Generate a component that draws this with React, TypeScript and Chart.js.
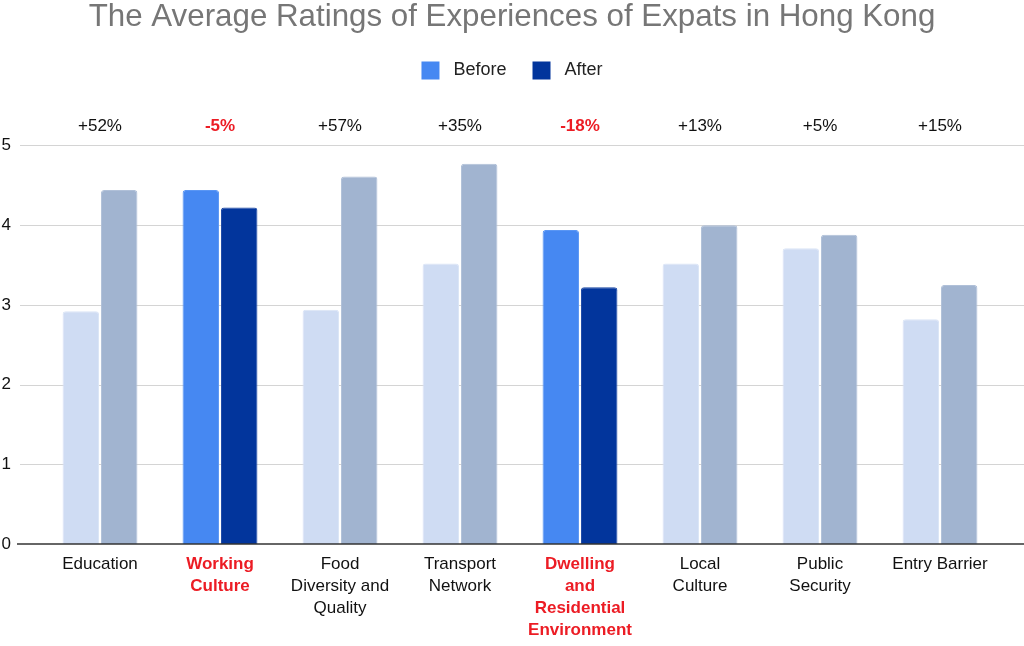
import { useEffect, useRef } from "react";
import { Chart, registerables } from "chart.js";
import type { Plugin } from "chart.js";

Chart.register(...registerables);

// chart data
const categories = [
  ["Education"],
  ["Working", "Culture"],
  ["Food", "Diversity and", "Quality"],
  ["Transport", "Network"],
  ["Dwelling", "and", "Residential", "Environment"],
  ["Local", "Culture"],
  ["Public", "Security"],
  ["Entry Barrier"],
];
const beforeValues = [2.92, 4.44, 2.94, 3.52, 3.94, 3.52, 3.71, 2.82];
const afterValues = [4.44, 4.22, 4.61, 4.77, 3.22, 4.0, 3.88, 3.25];
const changeLabels = ["+52%", "-5%", "+57%", "+35%", "-18%", "+13%", "+5%", "+15%"];
const highlighted = [false, true, false, false, true, false, false, false];
const yTicks = [0, 1, 2, 3, 4, 5];

const RED = "#ec1c24";
const FONT = "'Liberation Sans', Arial, Helvetica, sans-serif";

const beforeColors = highlighted.map((h) => (h ? "#4688f2" : "#cfdcf3"));
const beforeBorders = highlighted.map((h) => (h ? "#5a96f4" : "#dbe5f6"));
const afterColors = highlighted.map((h) => (h ? "#02359c" : "#a1b4d0"));
const afterBorders = highlighted.map((h) => (h ? "#1a47a4" : "#b0c0d8"));

// grid lines run wider than the category band, like the original
const gridPlugin: Plugin<"bar"> = {
  id: "fullGrid",
  beforeDatasetsDraw(chart) {
    const { ctx, width } = chart;
    const y = chart.scales.y;
    ctx.save();
    ctx.strokeStyle = "#d4d4d4";
    ctx.lineWidth = 1;
    yTicks.forEach((v) => {
      if (v === 0) return;
      const py = Math.round(y.getPixelForValue(v)) + 0.5;
      ctx.beginPath();
      ctx.moveTo(20, py);
      ctx.lineTo(width, py);
      ctx.stroke();
    });
    ctx.restore();
  },
  afterDatasetsDraw(chart) {
    const { ctx, width } = chart;
    const py = chart.scales.y.getPixelForValue(0);
    ctx.save();
    ctx.strokeStyle = "#333333";
    ctx.lineWidth = 1.5;
    ctx.beginPath();
    ctx.moveTo(17, py);
    ctx.lineTo(width, py);
    ctx.stroke();
    ctx.restore();
  },
};

const changePlugin: Plugin<"bar"> = {
  id: "changeLabels",
  afterDraw(chart) {
    const { ctx, chartArea } = chart;
    const x = chart.scales.x;
    ctx.save();
    ctx.textAlign = "center";
    ctx.textBaseline = "middle";
    changeLabels.forEach((label, i) => {
      const neg = label.startsWith("-");
      ctx.font = `${neg ? "bold " : ""}17px ${FONT}`;
      ctx.fillStyle = neg ? RED : "#111111";
      ctx.fillText(label, x.getPixelForValue(i), chartArea.top - 19);
    });
    ctx.restore();
  },
};

// push plot area down below the legend
const legendGap: Plugin<"bar"> = {
  id: "legendGap",
  beforeInit(chart) {
    const legend = chart.legend as any;
    if (!legend) return;
    const fit = legend.fit;
    legend.fit = function () {
      fit.bind(legend)();
      this.height += 56;
    };
  },
};

export default function App() {
  const canvasRef = useRef<HTMLCanvasElement | null>(null);

  useEffect(() => {
    document.body.style.margin = "0";
    if (!canvasRef.current) return;
    Chart.defaults.font.family = FONT;

    const chart = new Chart(canvasRef.current, {
      type: "bar",
      data: {
        labels: categories,
        datasets: [
          {
            label: "Before",
            data: beforeValues,
            backgroundColor: beforeColors,
            borderColor: beforeBorders,
            borderWidth: 1,
            borderSkipped: "bottom",
            borderRadius: 3,
            categoryPercentage: 0.64,
            barPercentage: 0.95,
          },
          {
            label: "After",
            data: afterValues,
            backgroundColor: afterColors,
            borderColor: afterBorders,
            borderWidth: 1,
            borderSkipped: "bottom",
            borderRadius: 3,
            categoryPercentage: 0.64,
            barPercentage: 0.95,
          },
        ],
      },
      options: {
        responsive: true,
        maintainAspectRatio: false,
        animation: false,
        layout: { padding: { left: 0, right: 0, top: 0, bottom: 5 } },
        plugins: {
          title: {
            display: true,
            text: "The Average Ratings of Experiences of Expats in Hong Kong",
            color: "#767676",
            font: { size: 31.3, weight: "normal", family: FONT, lineHeight: 1.1 },
            padding: { top: 0, bottom: 1 },
          },
          legend: {
            display: true,
            labels: {
              boxWidth: 18,
              boxHeight: 18,
              padding: 26,
              color: "#222222",
              font: { size: 18, family: FONT },
              generateLabels: () => [
                { text: " Before", fillStyle: "#4688f2", strokeStyle: "#4688f2", lineWidth: 0, datasetIndex: 0, hidden: false, fontColor: "#222222" },
                { text: " After", fillStyle: "#02359c", strokeStyle: "#02359c", lineWidth: 0, datasetIndex: 1, hidden: false, fontColor: "#222222" },
              ],
            },
          },
          tooltip: { enabled: false },
        },
        scales: {
          x: {
            grid: { display: false, drawTicks: false },
            border: { display: false },
            afterFit: (scale: any) => {
              scale.height = 97;
            },
            ticks: {
              autoSkip: false,
              maxRotation: 0,
              padding: 9,
              color: (ctx: any) => (highlighted[ctx.index] ? RED : "#111111"),
              font: (ctx: any) => ({
                size: 17,
                family: FONT,
                weight: highlighted[ctx.index] ? "bold" : "normal",
                lineHeight: 1.3,
              }),
            },
          },
          y: {
            min: 0,
            max: 5,
            grid: { display: false, drawTicks: false },
            border: { display: false },
            afterFit: (scale: any) => {
              scale.width = 40;
            },
            ticks: {
              stepSize: 1,
              padding: 29,
              color: "#111111",
              font: { size: 17, family: FONT },
            },
          },
          // empty right-hand margin so the plot band ends at x=1000
          yRight: {
            position: "right",
            min: 0,
            max: 5,
            grid: { display: false, drawTicks: false },
            border: { display: false },
            ticks: { display: false },
            afterFit: (scale: any) => {
              scale.width = 24;
            },
          },
        },
      },
      plugins: [legendGap, gridPlugin, changePlugin],
    });

    return () => chart.destroy();
  }, []);

  return (
    <div style={{ position: "relative", width: 1024, height: 646 }}>
      <canvas ref={canvasRef}></canvas>
    </div>
  );
}
